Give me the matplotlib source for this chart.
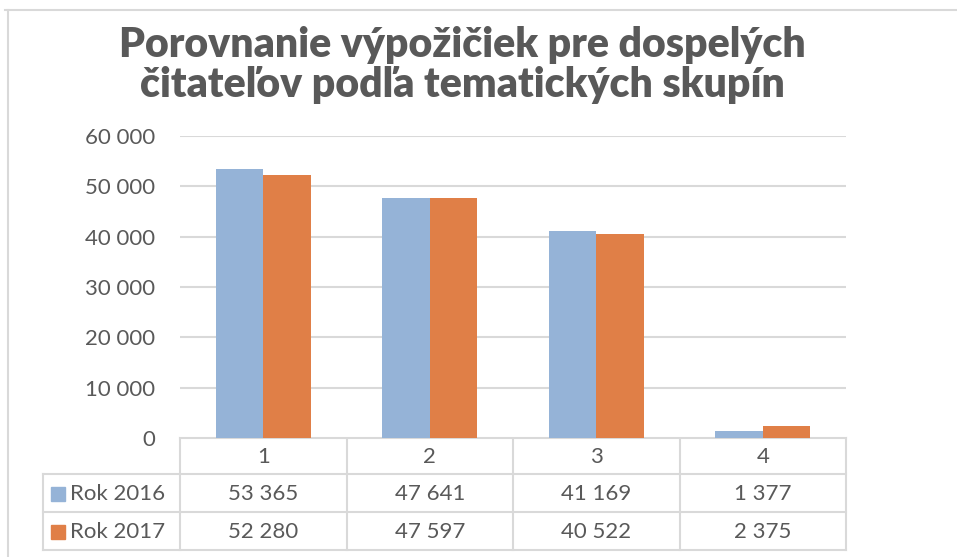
import matplotlib
matplotlib.use("Agg")
import matplotlib.pyplot as plt
import numpy as np

# data
categories = ["1", "2", "3", "4"]
series_names = ["Rok 2016", "Rok 2017"]
values_2016 = [53365, 47641, 41169, 1377]
values_2017 = [52280, 47597, 40522, 2375]
y_ticks = [0, 10000, 20000, 30000, 40000, 50000, 60000]
title = "Porovnanie výpožičiek pre dospelých\nčitateľov podľa tematických skupín"

colors = ["#95B3D7", "#E07F47"]
text_color = "#595959"
grid_color = "#D9D9D9"
font = ["Lato", "DejaVu Sans"]
plt.rcParams["font.family"] = font

W, H = 957, 557
fig = plt.figure(figsize=(W / 100, H / 100), dpi=100)

# overlay in pixel coordinates for frame and data table
ov = fig.add_axes([0, 0, 1, 1])
ov.set_xlim(0, W)
ov.set_ylim(H, 0)
ov.axis("off")

# chart frame (left and top edges visible)
ov.plot([8, 8], [10, H], color=grid_color, lw=1.5)
ov.plot([5, W], [10, 10], color=grid_color, lw=1.5)

# plot area
x0, x1, ytop, ybot = 180, 846, 136, 438
ax = fig.add_axes([x0 / W, (H - ybot) / H, (x1 - x0) / W, (ybot - ytop) / H])
x = np.arange(len(categories))
bw = 0.285
ax.bar(x - bw / 2, values_2016, bw, color=colors[0], zorder=3)
ax.bar(x + bw / 2, values_2017, bw, color=colors[1], zorder=3)
ax.set_xlim(-0.5, len(categories) - 0.5)
ax.set_ylim(0, 60000)
ax.set_yticks(y_ticks)
ax.set_yticklabels([f"{v:,}".replace(",", " ") for v in y_ticks])
ax.set_xticks([])
ax.grid(axis="y", color=grid_color, lw=1.5, zorder=0)
for s in ax.spines.values():
    s.set_visible(False)
ax.tick_params(axis="y", length=0, pad=18, labelsize=16, labelcolor=text_color)

fig.text(462 / W, 1 - 26 / H, title, ha="center", va="top", fontsize=29.5,
         fontweight="heavy", color=text_color, linespacing=1.08)

# data table
col_edges = np.linspace(x0, x1, len(categories) + 1)
row_edges = [438, 474, 512, 550]
label_left = 43
lw = 1.5
# horizontal lines
ov.plot([x0, x1], [row_edges[0], row_edges[0]], color=grid_color, lw=lw)
for yy in row_edges[1:]:
    ov.plot([label_left, x1], [yy, yy], color=grid_color, lw=lw)
# vertical lines
for xx in col_edges:
    ov.plot([xx, xx], [row_edges[0], row_edges[-1]], color=grid_color, lw=lw)
ov.plot([label_left, label_left], [row_edges[1], row_edges[-1]], color=grid_color, lw=lw)

centers = (col_edges[:-1] + col_edges[1:]) / 2
for cx, cat in zip(centers, categories):
    ov.text(cx, (row_edges[0] + row_edges[1]) / 2 + 1, cat, ha="center", va="center",
            fontsize=16, color=text_color)

for r, (name, vals) in enumerate(zip(series_names, [values_2016, values_2017])):
    cy = (row_edges[r + 1] + row_edges[r + 2]) / 2 + 1
    ov.add_patch(plt.Rectangle((51, cy - 7), 14, 14, color=colors[r]))
    ov.text(70, cy, name, ha="left", va="center", fontsize=16, color=text_color)
    for cx, v in zip(centers, vals):
        ov.text(cx, cy, f"{v:,}".replace(",", " "), ha="center", va="center",
                fontsize=16, color=text_color)

fig.savefig("out.png", dpi=100)
